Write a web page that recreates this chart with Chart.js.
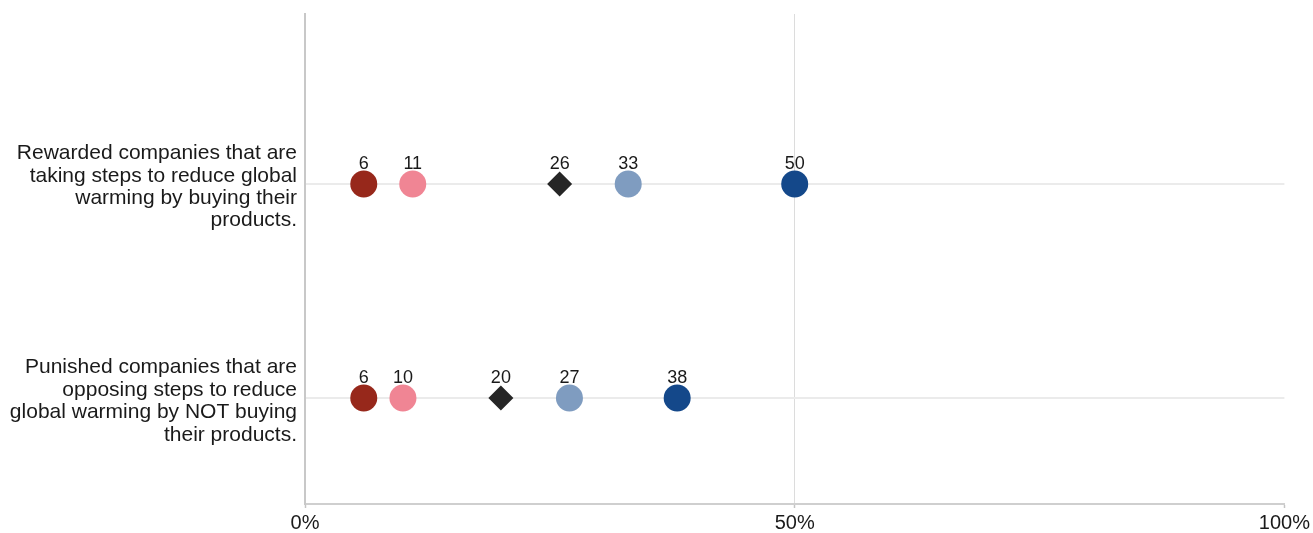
<!DOCTYPE html>
<html>
<head>
<meta charset="utf-8">
<script src="https://cdn.jsdelivr.net/npm/chart.js@4"></script>
<style>
  html, body { margin: 0; padding: 0; background: #fff; }
  #wrap { width: 1313px; height: 533px; }
</style>
</head>
<body>
<div id="wrap"><canvas id="chart"></canvas></div>
<script>
// rows (y = 1, 2 from top)
var rowLabels = [
    ['Rewarded companies that are', 'taking steps to reduce global', 'warming by buying their', 'products.'],
    ['Punished companies that are', 'opposing steps to reduce', 'global warming by NOT buying', 'their products.'],
];

// one array per group of respondents, values in %
var groupA = [6, 6];
var groupB = [11, 10];
var groupC = [26, 20];
var groupD = [33, 27];
var groupE = [50, 38];

var xTicks = [0, 50, 100];

var FONT = 'Arial, "Liberation Sans", sans-serif';

function pts(values) {
    return values.map(function (v, i) { return { x: v, y: i + 1 }; });
}

function series(values, color, style, radius) {
    return {
        data: pts(values),
        showLine: false,
        pointStyle: style,
        pointRadius: radius,
        pointHoverRadius: radius,
        backgroundColor: color,
        borderColor: color,
        borderWidth: 0,
    };
}

// writes the value above every point
var valueLabels = {
    id: 'valueLabels',
    afterDatasetsDraw: function (chart) {
        var ctx = chart.ctx;
        ctx.save();
        ctx.font = '18px ' + FONT;
        ctx.fillStyle = '#1a1a1a';
        ctx.textAlign = 'center';
        ctx.textBaseline = 'alphabetic';
        chart.data.datasets.forEach(function (ds, i) {
            chart.getDatasetMeta(i).data.forEach(function (p, j) {
                ctx.fillText(String(ds.data[j].x), p.x, p.y - 15);
            });
        });
        ctx.restore();
    }
};

new Chart(document.getElementById('chart'), {
    type: 'scatter',
    data: {
        datasets: [
            series(groupA, '#97281b', 'circle', 13.5),
            series(groupB, '#f08594', 'circle', 13.5),
            series(groupC, '#262626', 'rectRot', 12.5),
            series(groupD, '#7f9cc0', 'circle', 13.5),
            series(groupE, '#14488a', 'circle', 13.5),
        ]
    },
    options: {
        responsive: true,
        maintainAspectRatio: false,
        animation: false,
        layout: {
            padding: { top: 14, right: 28, left: 0, bottom: 0 }
        },
        plugins: {
            legend: { display: false },
            tooltip: { enabled: false },
        },
        scales: {
            x: {
                type: 'linear',
                min: 0,
                max: 100,
                afterBuildTicks: function (scale) {
                    scale.ticks = xTicks.map(function (v) { return { value: v }; });
                },
                afterFit: function (scale) { scale.height = 29; },
                ticks: {
                    color: '#1a1a1a',
                    font: { family: FONT, size: 20 },
                    padding: 3,
                    maxRotation: 0,
                    callback: function (v) { return v + '%'; },
                },
                grid: {
                    color: function (c) { return c.tick && c.tick.value === 50 ? '#dcdcdc' : 'rgba(0,0,0,0)'; },
                    lineWidth: 1,
                    drawTicks: true,
                    tickLength: 4,
                    tickColor: '#c4c4c4',
                    tickWidth: 1.5,
                },
                border: { color: '#cfcfcf', width: 2 },
            },
            y: {
                type: 'linear',
                reverse: true,
                min: 0.206,
                max: 2.495,
                afterBuildTicks: function (scale) {
                    scale.ticks = rowLabels.map(function (l, i) { return { value: i + 1 }; });
                },
                afterFit: function (scale) {
                    scale.width = 305;
                    scale.paddingTop = 0;
                    scale.paddingBottom = 0;
                },
                ticks: {
                    color: '#1a1a1a',
                    font: { family: FONT, size: 21, lineHeight: 1.07 },
                    padding: 8,
                    labelOffset: 3,
                    callback: function (v) { return rowLabels[v - 1]; },
                },
                grid: {
                    color: '#ebebeb',
                    lineWidth: 2,
                    drawTicks: false,
                },
                border: { color: '#c8c8c8', width: 2 },
            },
        },
    },
    plugins: [valueLabels],
});
</script>
</body>
</html>
